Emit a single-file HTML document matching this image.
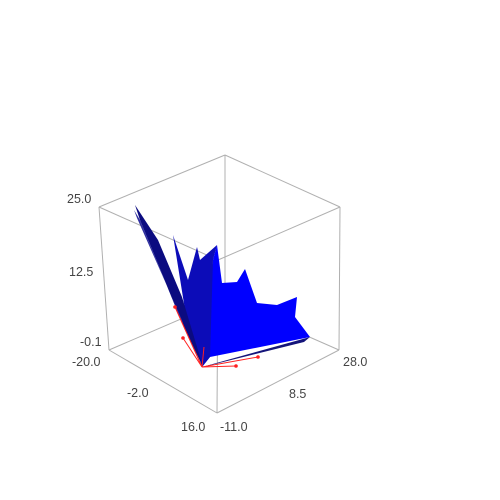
<!DOCTYPE html>
<html><head><meta charset="utf-8"><style>
html,body{margin:0;padding:0;background:#fff;}
svg{display:block;}
text{font-family:"Liberation Sans",sans-serif;font-size:12.5px;fill:#444;}
</style></head><body>
<svg width="500" height="500" viewBox="0 0 500 500">
<g id="box" stroke="#b0b0b0" stroke-width="1" fill="none"></g>
<g>
<polygon fill="#0000ff" points="213,260 217,245 222,283 237,282 245,269 257,303 277,305 297,297 295,317 310,337 210,357 202,367"/>
<polygon fill="#14147a" points="202,367 310,337 304,342 207,366"/>
<polygon fill="#0c0cb8" points="173,235 182,262 188,280 197,247 200,260 217,245 213,260 210,357 202,367 185,310"/>
<polygon fill="#0b0b80" points="135,205 158,240 182,297 203,367 185,330 140,220"/>
<polygon fill="#3030a0" points="134,210 140,220 185,330 182,320 137,218"/>
</g>
<g stroke="#ff2020" stroke-width="1" fill="#ff2020">
<line x1="202" y1="367" x2="175" y2="307"/><line x1="202" y1="367" x2="183" y2="338"/>
<line x1="202" y1="367" x2="258" y2="357"/><line x1="202" y1="367" x2="236" y2="366"/>
<line x1="202" y1="367" x2="204" y2="347"/>
<circle cx="175" cy="307" r="1.3"/><circle cx="183" cy="338" r="1.3"/><circle cx="258" cy="357" r="1.3"/><circle cx="236" cy="366" r="1.3"/>
</g>
<g>
<text x="67" y="203">25.0</text>
<text x="69" y="276">12.5</text>
<text x="80" y="346">-0.1</text>
<text x="72" y="366">-20.0</text>
<text x="127" y="397">-2.0</text>
<text x="181" y="431">16.0</text>
<text x="220" y="431">-11.0</text>
<text x="289" y="398">8.5</text>
<text x="343" y="366">28.0</text>
</g>
</svg>
<script>
const boxVerts=[[225,155],[99,207],[340,207],[218,260],[225,300],[109,350],[339,350],[217,413]];
const boxEdges=[[0,1],[0,2],[1,3],[2,3],[4,5],[4,6],[5,7],[6,7],[0,4],[1,5],[2,6],[3,7]];
const g=document.getElementById('box');
boxEdges.forEach(function(e){
  const l=document.createElementNS('http://www.w3.org/2000/svg','line');
  l.setAttribute('x1',boxVerts[e[0]][0]);l.setAttribute('y1',boxVerts[e[0]][1]);
  l.setAttribute('x2',boxVerts[e[1]][0]);l.setAttribute('y2',boxVerts[e[1]][1]);
  
  
  g.appendChild(l);
});
</script>
</body></html>
